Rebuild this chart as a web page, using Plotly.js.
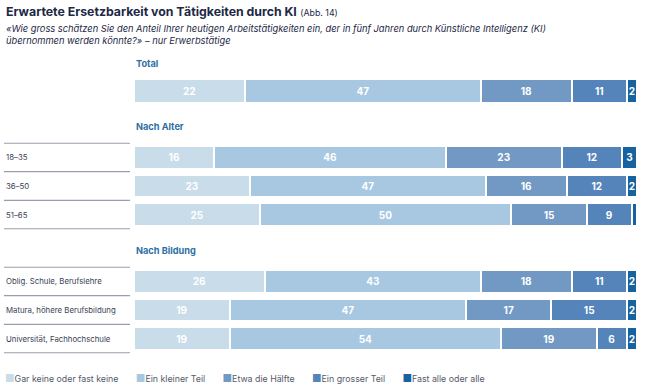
<!DOCTYPE html>
<html>
<head>
<meta charset="utf-8">
<script src="https://cdn.plot.ly/plotly-3.0.1.min.js"></script>
<style>html,body{margin:0;padding:0;background:#fff}#chart{width:646px;height:391px}</style>
</head>
<body>
<div id="chart"></div>
<script>
// ---- data ----
const seriesNames = ["Gar keine oder fast keine", "Ein kleiner Teil", "Etwa die Hälfte", "Ein grosser Teil", "Fast alle oder alle"];
const seriesColors = ["#c8dcea", "#a8c8e1", "#7199c3", "#5584ba", "#1763a0"];

const totalCats = ["Total"];
const totalVals = [[22], [47], [18], [11], [2]];

const alterCats = ["18–35", "36–50", "51–65"];
const alterVals = [[16, 23, 25], [46, 47, 50], [23, 16, 15], [12, 12, 9], [3, 2, 1]];

const bildungCats = ["Oblig. Schule, Berufslehre", "Matura, höhere Berufsbildung", "Universität, Fachhochschule"];
const bildungVals = [[26, 19, 19], [43, 47, 54], [18, 17, 19], [11, 15, 6], [2, 2, 2]];

const sectionTitles = ["Total", "Nach Alter", "Nach Bildung"];

// ---- build ----
const FONT = "Inter, 'Liberation Sans', Arial, sans-serif";
const H = 391;
function dom(top, bottom) { return [1 - bottom / H, 1 - top / H]; }

const groups = [
  {cats: totalCats, vals: totalVals, axis: "y", dom: dom(76.5, 105.5), lines: false},
  {cats: alterCats, vals: alterVals, axis: "y2", dom: dom(142.5, 229.5), lines: true},
  {cats: bildungCats, vals: bildungVals, axis: "y3", dom: dom(266.5, 353.5), lines: true}
];

const traces = [];
groups.forEach(g => {
  seriesNames.forEach((name, i) => {
    traces.push({
      type: "bar", orientation: "h", name: name,
      y: g.cats, x: g.vals[i],
      yaxis: g.axis, xaxis: "x",
      marker: {color: seriesColors[i], line: {color: "#ffffff", width: 2}},
      width: 0.8,
      text: g.vals[i].map(v => v >= 2 ? String(v) : ""),
      textposition: "inside", insidetextanchor: "middle",
      constraintext: "none",
      textfont: {color: "#ffffff", size: 10, family: FONT, weight: 700},
      hoverinfo: "name+x", showlegend: false, cliponaxis: false
    });
  });
});

const annotations = [];
const shapes = [];
const LEFT = -0.2585;

// title
annotations.push({
  xref: "paper", yref: "paper", x: LEFT, y: 1 - 2 / H, xanchor: "left", yanchor: "top",
  text: "<b>Erwartete Ersetzbarkeit von Tätigkeiten durch KI</b> <span style='font-size:8.8px'>(Abb. 14)</span>",
  showarrow: false, font: {size: 12.3, color: "#1d2846", family: FONT}, align: "left"
});
annotations.push({
  xref: "paper", yref: "paper", x: LEFT, y: 1 - 21 / H, xanchor: "left", yanchor: "top",
  text: "<i>«Wie gross schätzen Sie den Anteil Ihrer heutigen Arbeitstätigkeiten ein, der in fünf Jahren durch Künstliche Intelligenz (KI)<br>übernommen werden könnte?» – nur Erwerbstätige</i>",
  showarrow: false, font: {size: 9.3, color: "#1d2846", family: FONT}, align: "left"
});

// section headers
const headerY = [63, 127, 250];
sectionTitles.forEach((t, i) => {
  annotations.push({
    xref: "paper", yref: "paper", x: 0, y: 1 - headerY[i] / H, xanchor: "left", yanchor: "middle",
    text: "<b>" + t + "</b>", showarrow: false,
    font: {size: 9.2, color: "#2d6fa3", family: FONT}
  });
});

// row labels and separator lines
groups.forEach(g => {
  if (!g.lines) return;
  g.cats.forEach(c => {
    annotations.push({
      xref: "paper", yref: g.axis, x: LEFT, y: c, xanchor: "left", yanchor: "middle",
      text: c, showarrow: false, font: {size: 7.8, color: "#3a3f55", family: FONT}
    });
  });
  for (let k = 0; k <= g.cats.length; k++) {
    shapes.push({
      type: "line", xref: "paper", yref: g.axis, x0: LEFT, x1: -0.008, y0: k - 0.5, y1: k - 0.5,
      line: {color: "#9a9eac", width: 1.3}
    });
  }
});

// legend as text
const legendText = seriesNames.map((n, i) =>
  "<span style='color:" + seriesColors[i] + ";font-size:10.5px'>■</span>" + n
).join("&nbsp;&nbsp;&nbsp;&nbsp;&nbsp;&nbsp;&nbsp;");
annotations.push({
  xref: "paper", yref: "paper", x: -0.2605, y: 1 - 378 / H, xanchor: "left", yanchor: "middle",
  text: legendText, showarrow: false, font: {size: 8.8, color: "#555a6a", family: FONT}
});

const layout = {
  width: 646, height: 391,
  margin: {l: 134, r: 9, t: 0, b: 0, pad: 0},
  paper_bgcolor: "#ffffff", plot_bgcolor: "#ffffff",
  barmode: "stack", showlegend: false,
  font: {family: FONT},
  xaxis: {range: [0, 100], visible: false, fixedrange: true},
  annotations: annotations, shapes: shapes
};
groups.forEach(g => {
  const key = g.axis === "y" ? "yaxis" : "yaxis" + g.axis.slice(1);
  layout[key] = {
    domain: g.dom, type: "category", categoryorder: "array", categoryarray: g.cats,
    autorange: "reversed", showticklabels: false, showgrid: false, zeroline: false,
    showline: false, ticks: "", fixedrange: true, anchor: "x"
  };
});

Plotly.newPlot("chart", traces, layout, {displayModeBar: false, staticPlot: true});
</script>
</body>
</html>
